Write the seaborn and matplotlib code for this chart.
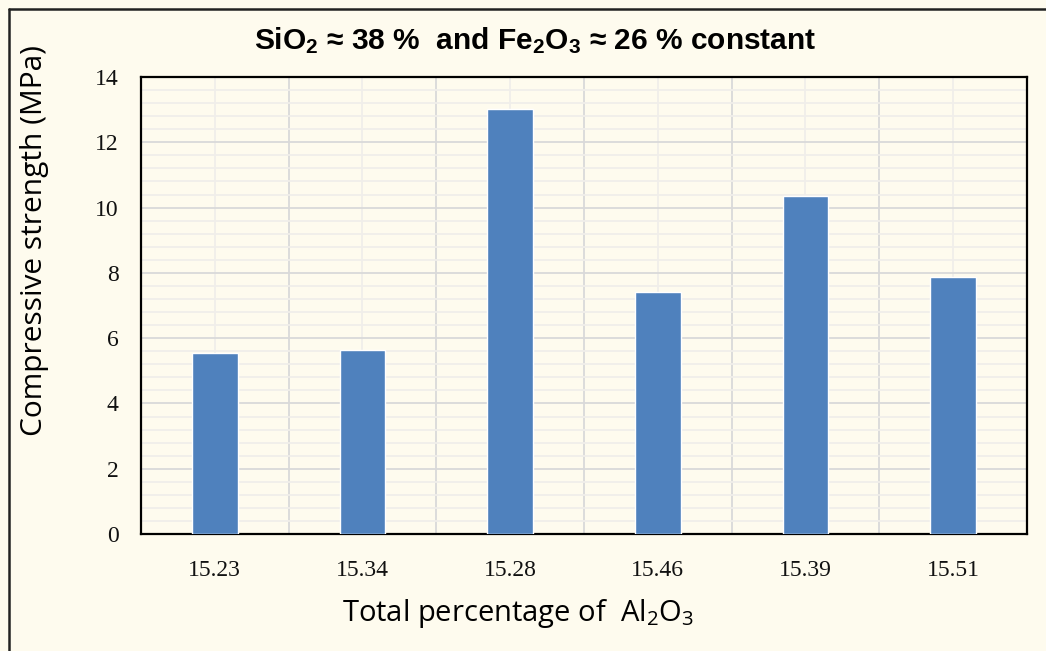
import matplotlib
matplotlib.use("Agg")
import matplotlib.pyplot as plt
from matplotlib.lines import Line2D
from matplotlib import font_manager
import seaborn as sns
import pandas as pd
import numpy as np

categories = ["15.23", "15.34", "15.28", "15.46", "15.39", "15.51"]
strength = [5.55, 5.64, 13.03, 7.40, 10.37, 7.86]
y_ticks = [0, 2, 4, 6, 8, 10, 12, 14]

df = pd.DataFrame({"al2o3": categories, "strength": strength})

sns.set_theme(style="white")
plt.rcParams["mathtext.default"] = "regular"

names = {f.name for f in font_manager.fontManager.ttflist}
title_font = "Liberation Sans Narrow" if "Liberation Sans Narrow" in names else "Liberation Sans"
bg = "#FEFBEE"

fig = plt.figure(figsize=(10.46, 6.51), dpi=100, facecolor=bg)
ax = fig.add_axes([0.1348, 0.1797, 0.8470, 0.7020])
ax.set_facecolor(bg)

sns.barplot(data=df, x="al2o3", y="strength", color="#4F81BD", saturation=1,
            width=0.31, ax=ax, zorder=3)

ax.set_ylim(0, 14)
ax.set_xlim(-0.5, 5.5)
ax.set_yticks(y_ticks)
ax.set_yticks(np.arange(0, 14.01, 0.4), minor=True)
ax.set_xticks(np.arange(0.5, 5, 1.0), minor=True)

ax.grid(False)
ax.yaxis.grid(True, which="major", color="#D9D9D9", linewidth=1.3, zorder=0)
ax.yaxis.grid(True, which="minor", color="#F0EEEA", linewidth=1.3, zorder=0)
ax.xaxis.grid(True, which="minor", color="#D9D9D9", linewidth=1.3, zorder=0)
ax.xaxis.grid(True, which="major", color="#F0EEEA", linewidth=1.3, zorder=0)
ax.set_axisbelow(True)

ax.tick_params(axis="both", which="both", length=0)
ax.tick_params(axis="y", pad=16)
ax.tick_params(axis="x", pad=19)
for lab in ax.get_xticklabels() + ax.get_yticklabels():
    lab.set_fontfamily("Liberation Serif")
    lab.set_fontsize(17)
    lab.set_color("#111111")

for s in ax.spines.values():
    s.set_visible(True)
    s.set_color("black")
    s.set_linewidth(1.6)

ax.set_xlabel("")
ax.set_ylabel("")
fig.text(0.033, 0.631, "Compressive strength (MPa)", rotation=90, ha="center", va="center",
         fontsize=21.5, family="Open Sans", color="#000000")
fig.text(0.495, 0.058, "Total percentage of  Al$_2$O$_3$", ha="center", va="center",
         fontsize=21, family="Open Sans", color="#000000")
fig.text(0.512, 0.938, "SiO$_2$ ≈ 38 %  and Fe$_2$O$_3$ ≈ 26 % constant", ha="center",
         va="center", fontsize=21.5, fontweight="bold", family=[title_font, "DejaVu Sans"],
         color="black")

# outer frame (left and top edges visible)
fig.add_artist(Line2D([9 / 1046, 9 / 1046], [0, 1 - 9 / 651], transform=fig.transFigure,
                      color="#222222", linewidth=1.8))
fig.add_artist(Line2D([9 / 1046, 1], [1 - 9 / 651, 1 - 9 / 651], transform=fig.transFigure,
                      color="#222222", linewidth=1.8))

fig.savefig("out.png", dpi=100, facecolor=bg)
